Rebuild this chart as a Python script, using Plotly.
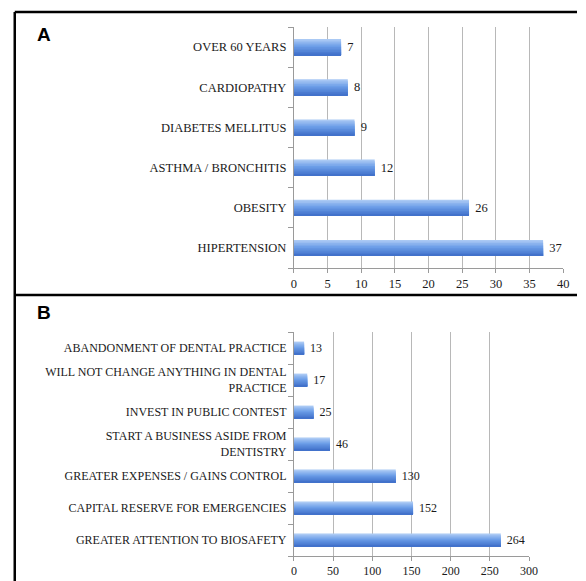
import plotly.graph_objects as go

W, H = 586, 581

# ---- data (bottom to top) ----
cats_a = ["HIPERTENSION", "OBESITY", "ASTHMA / BRONCHITIS", "DIABETES MELLITUS",
          "CARDIOPATHY", "OVER 60 YEARS"]
vals_a = [37, 26, 12, 9, 8, 7]

cats_b = ["GREATER ATTENTION TO BIOSAFETY", "CAPITAL RESERVE FOR EMERGENCIES",
          "GREATER EXPENSES / GAINS CONTROL", "START A BUSINESS ASIDE FROM<br>DENTISTRY",
          "INVEST IN PUBLIC CONTEST", "WILL NOT CHANGE ANYTHING IN DENTAL<br>PRACTICE",
          "ABANDONMENT OF DENTAL PRACTICE"]
vals_b = [264, 152, 130, 46, 25, 17, 13]

ticks_a = [0, 5, 10, 15, 20, 25, 30, 35, 40]
ticks_b = [0, 50, 100, 150, 200, 250, 300]

# ---- styling ----
SERIF = "'Liberation Serif', 'Times New Roman', Times, serif"
TXT = "#1a1a1a"
GRID = "#b8b8b8"
AX = "#9a9a9a"
BARW = 0.4
N = 10
top_c = (178, 206, 245)
mid_c = (108, 158, 232)
bot_c = (62, 110, 200)
FS_A = 12.5
FS_B = 12


def grad(t):
    # t=0 top, t=1 bottom
    if t < 0.45:
        u = t / 0.45
        a, b = top_c, mid_c
    else:
        u = (t - 0.45) / 0.55
        a, b = mid_c, bot_c
    return "rgb(%d,%d,%d)" % tuple(round(a[i] + (b[i] - a[i]) * u) for i in range(3))


fig = go.Figure()


def add_bars(cats, vals, xa, ya, fs):
    for k in range(N):
        w = BARW * (N - k) / N
        kw = {}
        if k == 0:
            kw = dict(texttemplate="&nbsp;%{x}", textposition="outside", constraintext="none",
                      textfont=dict(family=SERIF, size=fs, color=TXT))
        fig.add_trace(go.Bar(
            x=vals, y=cats, orientation="h", xaxis=xa, yaxis=ya,
            width=w, offset=-BARW / 2,
            marker=dict(color=grad((k + 0.5) / N), line=dict(width=0)),
            cliponaxis=False, showlegend=False, hoverinfo="skip", **kw,
        ))


add_bars(cats_a, vals_a, "x", "y", FS_A)
add_bars(cats_b, vals_b, "x2", "y2", FS_B)


def px_x(p):
    return p / W


def px_y(p):
    return 1 - p / H


def xax(fs):
    return dict(showgrid=True, gridcolor=GRID, gridwidth=1, showline=True, linecolor=AX,
                linewidth=1, ticks="outside", ticklen=4, tickcolor=AX, zeroline=False,
                tickfont=dict(family=SERIF, size=fs, color=TXT), fixedrange=True)


def yax(fs):
    return dict(type="category", showgrid=False, showline=True, linecolor=AX, linewidth=1,
                ticks="outside", ticklen=5, tickcolor=AX, tickson="boundaries",
                tickfont=dict(family=SERIF, size=fs, color=TXT), ticklabelstandoff=4,
                fixedrange=True)


fig.update_layout(
    width=W, height=H, margin=dict(l=0, r=0, t=0, b=0),
    paper_bgcolor="white", plot_bgcolor="white", barmode="overlay",
    xaxis=dict(xax(FS_A), domain=[px_x(297), px_x(572)], range=[0, 40],
               tickvals=ticks_a, anchor="y"),
    yaxis=dict(yax(FS_A), domain=[px_y(268), px_y(27)], range=[-0.5, 5.5], anchor="x"),
    xaxis2=dict(xax(FS_B), domain=[px_x(297), px_x(537)], range=[0, 300],
                tickvals=ticks_b, anchor="y2"),
    yaxis2=dict(yax(FS_B), domain=[px_y(556), px_y(332)], range=[-0.5, 6.5], anchor="x2"),
    showlegend=False,
)

# panel borders (kept inside the page)
border = dict(color="black", width=2.5)
fig.add_shape(type="line", xref="paper", yref="paper",
              x0=px_x(12), x1=1, y0=px_y(12), y1=px_y(12), line=border)
fig.add_shape(type="line", xref="paper", yref="paper",
              x0=px_x(12), x1=1, y0=px_y(295), y1=px_y(295), line=border)
fig.add_shape(type="line", xref="paper", yref="paper",
              x0=px_x(12), x1=px_x(12), y0=0, y1=px_y(12), line=border)

for lab, yy in (("A", 35), ("B", 312)):
    fig.add_annotation(text="<b>%s</b>" % lab, xref="paper", yref="paper",
                       x=px_x(42), y=px_y(yy), xanchor="center", yanchor="middle",
                       showarrow=False, font=dict(family="Liberation Sans", size=19, color="black"))

fig.write_html("out.html")
